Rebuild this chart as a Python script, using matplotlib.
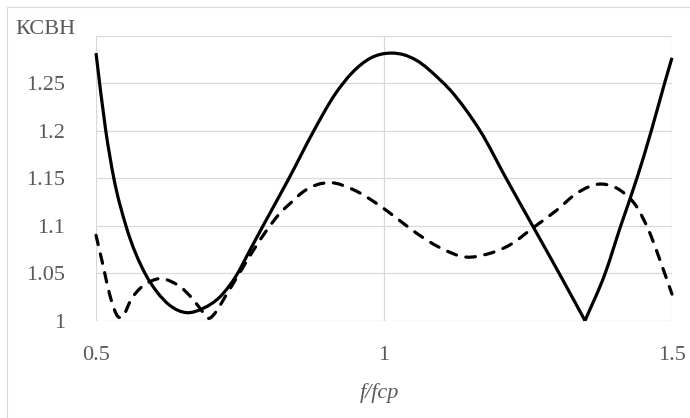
import matplotlib
matplotlib.use("Agg")
import matplotlib.pyplot as plt
from matplotlib import font_manager
from matplotlib.patches import Rectangle, PathPatch
from matplotlib.path import Path

# solid curve
f_solid = [0.5, 0.517, 0.531, 0.552, 0.585, 0.605, 0.6285, 0.657, 0.686, 0.715,
           0.744, 0.767, 0.790, 0.835, 0.878, 0.915, 0.945, 0.976, 1.013, 1.035,
           1.056, 1.097, 1.115, 1.14, 1.167, 1.212, 1.258, 1.304, 1.349, 1.384,
           1.411, 1.439, 1.464, 1.487, 1.5]
vswr_solid = [1.282, 1.2, 1.15, 1.1, 1.05, 1.031, 1.016, 1.0085, 1.013, 1.025,
              1.048, 1.074, 1.1, 1.15, 1.2, 1.2386, 1.2615, 1.2765, 1.282, 1.2801,
              1.2745, 1.254, 1.243, 1.224, 1.2, 1.15, 1.1, 1.05, 1.0, 1.05,
              1.1, 1.15, 1.2, 1.25, 1.277]
v_index = 28  # sharp minimum of the solid curve

# dashed curve
f_dash = [0.5, 0.5127, 0.524, 0.5387, 0.5446, 0.562, 0.5764, 0.5966, 0.614, 0.6314,
          0.6458, 0.669, 0.6806, 0.6967, 0.7066, 0.724, 0.747, 0.772, 0.796, 0.819,
          0.837, 0.860, 0.906, 0.947, 0.987, 1.022, 1.057, 1.097, 1.1435, 1.178,
          1.219, 1.259, 1.300, 1.334, 1.378, 1.410, 1.4387, 1.4618, 1.479, 1.4965,
          1.5]
vswr_dash = [1.09, 1.057, 1.027, 1.004, 1.0036, 1.0236, 1.034, 1.042, 1.0445, 1.041,
             1.036, 1.022, 1.013, 1.0025, 1.008, 1.025, 1.048, 1.073, 1.095, 1.113,
             1.1235, 1.136, 1.1455, 1.138, 1.1236, 1.108, 1.092, 1.077, 1.067, 1.070,
             1.080, 1.098, 1.1165, 1.134, 1.144, 1.1375, 1.120, 1.092, 1.064, 1.034,
             1.028]

xticks = [0.5, 1, 1.5]
xtick_labels = ["0.5", "1", "1.5"]
yticks = [1.0, 1.05, 1.1, 1.15, 1.2, 1.25, 1.3]
ytick_labels = ["1", "1.05", "1.1", "1.15", "1.2", "1.25", ""]

W, H = 690, 418
grey = "#595959"
grid_c = "#d9d9d9"


def serif_font(size, italic=False):
    # look the file up directly, so no silent fallback to a sans font
    want = "italic" if italic else "normal"
    for name in ["Liberation Serif", "DejaVu Serif"]:
        for fe in font_manager.fontManager.ttflist:
            if fe.name == name and fe.style == want and fe.weight in (400, "normal"):
                return font_manager.FontProperties(fname=fe.fname, size=size)
    return font_manager.FontProperties(family="serif", style=want, size=size)


def smooth_path(xs, ys):
    # smoothed line as cubic bezier segments through the read points
    n = len(xs)
    h = [xs[i + 1] - xs[i] for i in range(n - 1)]
    d = [(ys[i + 1] - ys[i]) / h[i] for i in range(n - 1)]
    m = [d[0]]
    for i in range(1, n - 1):
        m.append((h[i] * d[i - 1] + h[i - 1] * d[i]) / (h[i - 1] + h[i]))
    m.append(d[-1])
    verts = [(xs[0], ys[0])]
    codes = [Path.MOVETO]
    for i in range(n - 1):
        verts += [(xs[i] + h[i] / 3, ys[i] + m[i] * h[i] / 3),
                  (xs[i + 1] - h[i] / 3, ys[i + 1] - m[i + 1] * h[i] / 3),
                  (xs[i + 1], ys[i + 1])]
        codes += [Path.CURVE4] * 3
    return Path(verts, codes)


fig = plt.figure(figsize=(W / 100, H / 100), dpi=100)
ax = fig.add_axes([96 / W, 1 - 320.7 / H, (672 - 96) / W, (320.7 - 36) / H])

# outer chart border
fig.patches.append(Rectangle((7 / W, -0.2), 1.2, 1.2 - 7 / H, transform=fig.transFigure,
                             fill=False, edgecolor=grid_c, lw=0.8))

for xs, ys in [(f_solid[:v_index + 1], vswr_solid[:v_index + 1]),
               (f_solid[v_index:], vswr_solid[v_index:])]:
    ax.add_patch(PathPatch(smooth_path(xs, ys), fill=False, edgecolor="black", lw=2.3,
                           clip_on=False, joinstyle="miter", capstyle="butt", zorder=3))
ax.add_patch(PathPatch(smooth_path(f_dash, vswr_dash), fill=False, edgecolor="black",
                       lw=2.3, clip_on=False, linestyle=(0, (3.0, 3.0)),
                       capstyle="round", zorder=3))

ax.set_xlim(0.5, 1.5)
ax.set_ylim(1.0, 1.3)
ax.set_xticks(xticks)
ax.set_xticklabels(xtick_labels)
ax.set_yticks(yticks)
ax.set_yticklabels(ytick_labels)
ax.grid(True, color=grid_c, lw=0.9)
ax.set_axisbelow(True)
for s in ax.spines.values():
    s.set_visible(False)
ax.tick_params(length=0, colors=grey)
ax.tick_params(axis="y", pad=22)
ax.tick_params(axis="x", pad=18)
for lab in ax.get_xticklabels() + ax.get_yticklabels():
    lab.set_fontproperties(serif_font(16))

fig.text(15 / W, 1 - 29 / H, "КСВН", ha="left", va="center",
         color=grey, fontproperties=serif_font(16))
fig.text(379 / W, 1 - 393 / H, "f/fcp", ha="center", va="center",
         color=grey, fontproperties=serif_font(16, italic=True))

fig.savefig("out.png", dpi=100)
